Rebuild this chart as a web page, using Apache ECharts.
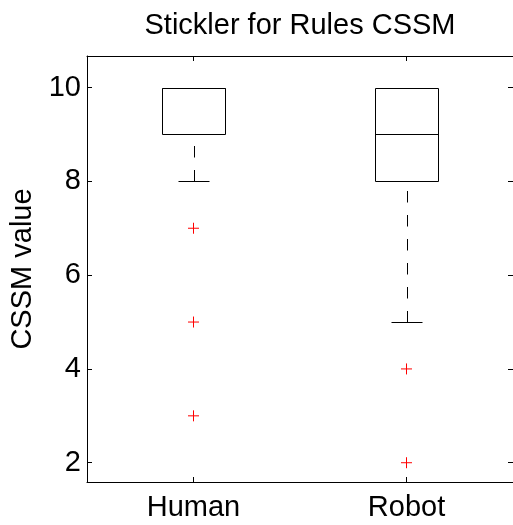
<!DOCTYPE html>
<html>
<head>
<meta charset="utf-8">
<script src="https://cdn.jsdelivr.net/npm/echarts@6/dist/echarts.min.js"></script>
<style>
  html, body { margin: 0; padding: 0; background: #fff; }
  #chart { width: 513px; height: 525px; }
</style>
</head>
<body>
<div id="chart"></div>
<script>
// Box-and-whisker summary per group
const categories = ['Human', 'Robot'];
const whiskerLow = [8, 5];
const q1 = [9, 8];
const median = [10, 9];
const q3 = [10, 10];
const whiskerHigh = [10, 10];

// Points beyond the whiskers, per group
const outliersHuman = [7, 5, 3];
const outliersRobot = [4, 2];

const yTicks = [2, 4, 6, 8, 10];
const yMin = 1.589;
const yMax = 10.673;

const FONT = "'Liberation Sans', Arial, Helvetica, sans-serif";
const FS = 29;

const boxData = categories.map((c, i) => [i, whiskerLow[i], q1[i], median[i], q3[i], whiskerHigh[i]]);
const outlierData = []
  .concat(outliersHuman.map(v => [categories[0], v]))
  .concat(outliersRobot.map(v => [categories[1], v]));

const crisp = v => Math.round(v) + 0.5;

function renderBox(params, api) {
  const idx = api.value(0);
  const band = api.size([1, 0])[0];
  const cx = api.coord([idx, 0])[0];
  const halfBox = band * 0.15;
  const halfCap = band * 0.075;
  const y = k => crisp(api.coord([idx, api.value(k)])[1]);
  const yLo = y(1), yQ1 = y(2), yMed = y(3), yQ3 = y(4), yHi = y(5);
  const x = crisp(cx);
  const bl = crisp(cx - halfBox), br = crisp(cx + halfBox);
  const cl = crisp(cx - halfCap), cr = crisp(cx + halfCap);
  const solid = { stroke: '#000', lineWidth: 1, fill: null };
  const dashed = { stroke: '#000', lineWidth: 1, lineDash: [11.5, 12.5], fill: null };
  return {
    type: 'group',
    children: [
      // whiskers, dashed, drawn outward from each cap
      { type: 'line', shape: { x1: x, y1: yLo, x2: x, y2: yQ1 }, style: dashed },
      { type: 'line', shape: { x1: x, y1: yHi, x2: x, y2: yQ3 }, style: dashed },
      // caps
      { type: 'line', shape: { x1: cl, y1: yLo, x2: cr, y2: yLo }, style: solid },
      { type: 'line', shape: { x1: cl, y1: yHi, x2: cr, y2: yHi }, style: solid },
      // box
      { type: 'rect', shape: { x: bl, y: yQ3, width: br - bl, height: yQ1 - yQ3 }, style: solid },
      // median
      { type: 'line', shape: { x1: bl, y1: yMed, x2: br, y2: yMed }, style: solid }
    ]
  };
}

const axisLine = { show: true, lineStyle: { color: '#000', width: 1 } };
const tickStyle = { color: '#000', width: 1 };

const chart = echarts.init(document.getElementById('chart'), null, { renderer: 'canvas' });
chart.setOption({
  animation: false,
  backgroundColor: '#fff',
  title: {
    text: 'Stickler for Rules CSSM',
    left: 295,
    textAlign: 'center',
    top: 6,
    textStyle: { fontFamily: FONT, fontSize: FS, fontWeight: 'normal', color: '#000' }
  },
  grid: { left: 87, top: 56, width: 427, height: 426, containLabel: false },
  xAxis: [
    {
      type: 'category',
      data: categories,
      position: 'bottom',
      boundaryGap: true,
      axisLine: axisLine,
      axisTick: { show: true, inside: true, alignWithLabel: true, length: 5, lineStyle: tickStyle },
      axisLabel: { fontFamily: FONT, fontSize: FS, color: '#000', margin: 11 },
      splitLine: { show: false }
    },
    {
      type: 'category',
      data: categories,
      position: 'top',
      boundaryGap: true,
      axisLine: axisLine,
      axisTick: { show: true, inside: true, alignWithLabel: true, length: 5, lineStyle: tickStyle },
      axisLabel: { show: false },
      splitLine: { show: false }
    }
  ],
  yAxis: [
    {
      type: 'value',
      position: 'left',
      min: yMin,
      max: yMax,
      name: 'CSSM value',
      nameLocation: 'middle',
      nameGap: 39,
      nameTextStyle: { fontFamily: FONT, fontSize: FS, color: '#000' },
      axisLine: axisLine,
      axisTick: { show: true, inside: true, length: 5, lineStyle: tickStyle, customValues: yTicks },
      axisLabel: { fontFamily: FONT, fontSize: FS, color: '#000', margin: 6, customValues: yTicks },
      splitLine: { show: false }
    },
    {
      type: 'value',
      position: 'right',
      min: yMin,
      max: yMax,
      axisLine: axisLine,
      axisTick: { show: true, inside: true, length: 5, lineStyle: tickStyle, customValues: yTicks },
      axisLabel: { show: false },
      splitLine: { show: false }
    }
  ],
  series: [
    {
      type: 'custom',
      xAxisIndex: 0,
      yAxisIndex: 0,
      renderItem: renderBox,
      encode: { x: 0, y: [1, 2, 3, 4, 5] },
      data: boxData,
      clip: false,
      silent: true
    },
    {
      type: 'scatter',
      xAxisIndex: 0,
      yAxisIndex: 0,
      data: outlierData,
      symbol: 'path://M0,5.5L11,5.5M5.5,0L5.5,11',
      symbolSize: 11,
      itemStyle: { color: 'none', borderColor: '#ff0000', borderWidth: 1, opacity: 1 },
      emphasis: { disabled: true },
      silent: true
    }
  ]
});
</script>
</body>
</html>
